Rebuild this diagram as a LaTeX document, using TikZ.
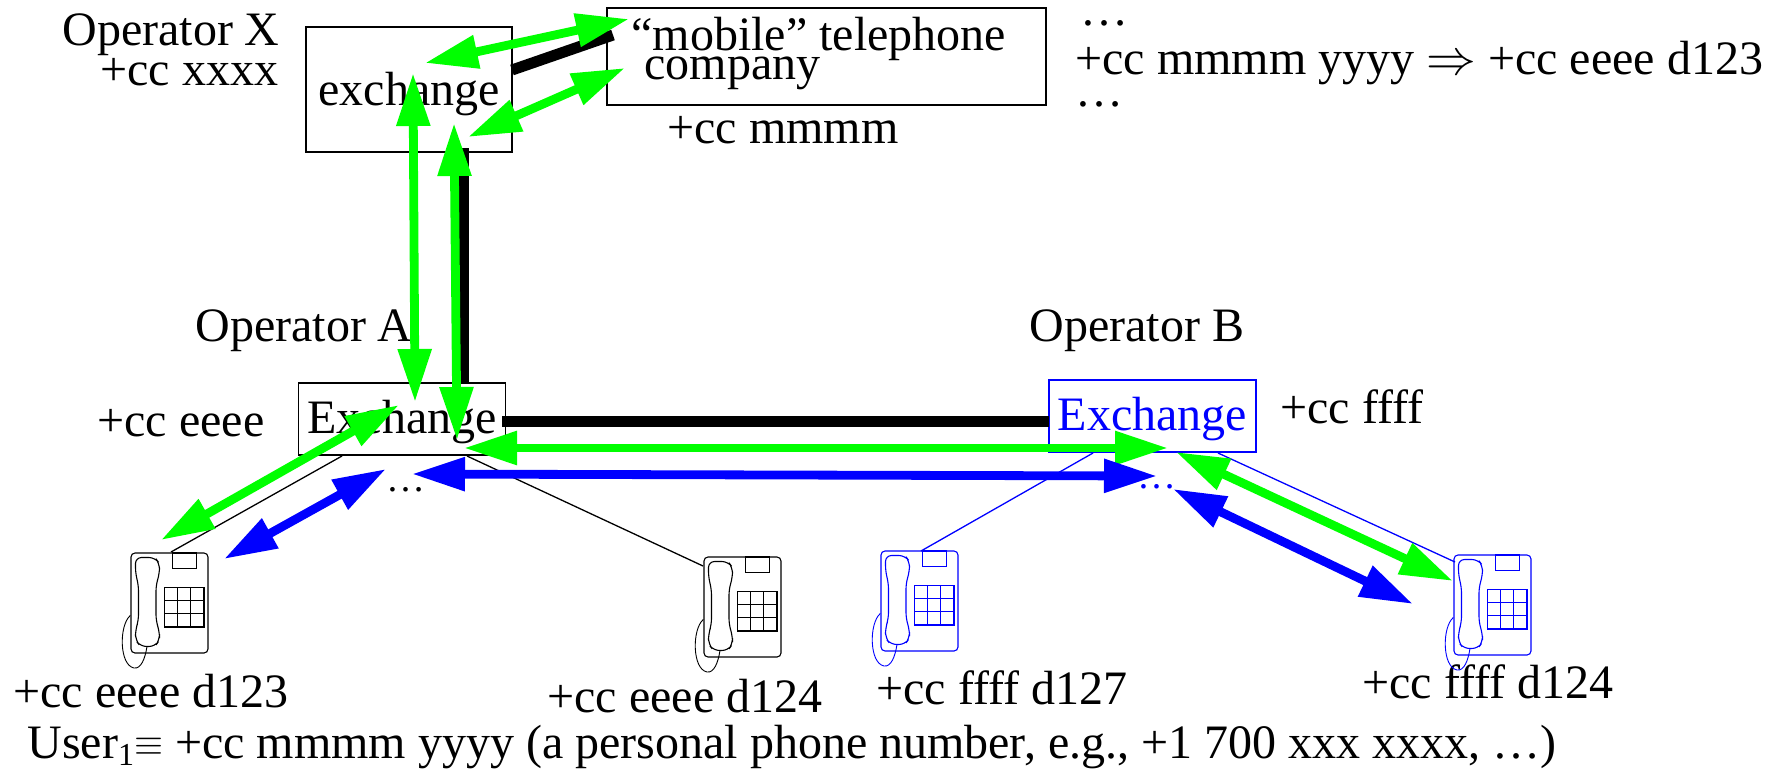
\documentclass[tikz,border=0pt]{standalone}
\usepackage{fontspec}
\setmainfont{Liberation Serif}
\usetikzlibrary{arrows.meta}
\definecolor{lgreen}{RGB}{0,255,0}
\definecolor{pblue}{RGB}{0,0,255}
\tikzset{
  lbl/.style={anchor=base west,inner sep=0pt,font=\fontsize{24}{28}\selectfont},
  dots/.style={anchor=base west,inner sep=0pt,font=\fontsize{19.5}{24}\selectfont},
  boxed/.style={draw,line width=0.85pt,anchor=base,inner xsep=0pt,inner ysep=0pt,align=center,font=\fontsize{24}{28}\selectfont},
  trunk/.style={line width=5.5pt,black},
  wire/.style={line width=0.65pt},
  dbl/.style={line width=4.4pt,{Triangle[length=26.5pt,width=16pt]}-{Triangle[length=26.5pt,width=16pt]}},
  greenarrow/.style={dbl,lgreen},
  bluearrow/.style={dbl,pblue},
  telephone/.pic={
    \draw[line width=0.55pt,rounded corners=2pt] (0,0) rectangle (77,100);
    \draw[line width=0.55pt] (41.7,0) rectangle (65.3,15.3);
    \draw[line width=0.55pt] (33.7,34.7) rectangle (73,74);
    \draw[line width=0.55pt] (46.8,34.7) -- (46.8,74) (59.9,34.7) -- (59.9,74)
      (33.7,47.8) -- (73,47.8) (33.7,60.9) -- (73,60.9);
    \draw[line width=0.55pt,rounded corners=3pt]
      (4.5,4.5) -- (24,4.5) -- (28.5,10.5) -- (28.5,20.5) -- (25,32) -- (25,67.5)
      -- (28.5,79) -- (28.5,87) -- (24,93.5) -- (9.5,93.5) -- (4.5,87) -- (4.5,77)
      -- (7.5,67.5) -- (7.5,32) -- (4.5,20.5) -- cycle;
    \draw[line width=0.45pt] (-0.7,62.5) .. controls (-12,72) and (-12,112) .. (3,115)
      .. controls (10,116) and (14,106) .. (16,93.5);
  }
}
\begin{document}
\begin{tikzpicture}[x=0.5pt,y=-0.5pt]
\useasboundingbox (0,0) rectangle (1773,772);
% boxes
\node[boxed,text width=103pt,text height=39pt,text depth=23.5pt] (exX) at (409,105) {exchange};
\node[draw,line width=0.85pt,inner sep=0pt,minimum width=219.5pt,minimum height=48.5pt] (mobile) at (826.5,56.5) {};
\node[boxed,text width=103.5pt,text height=25pt,text depth=11pt] (exA) at (402,433) {Exchange};
\node[boxed,draw=pblue,text=pblue,text width=103.5pt,text height=25pt,text depth=11pt] (exB) at (1152.5,430) {Exchange};
% labels
\node[lbl] (opX) at (62,45) {Operator X};
\node[lbl] (ccx) at (100,85) {+cc xxxx};
\node[lbl] (mob1) at (631,50) {“mobile” telephone};
\node[lbl] (mob2) at (644,79) {company};
\node[lbl] (ccm) at (667,143) {+cc mmmm};
\node[lbl] (d1) at (1080,25) {…};
\node[lbl] (map) at (1075,74) {+cc mmmm yyyy $\Rightarrow$ +cc eeee d123};
\node[lbl] (d2) at (1075,106) {…};
\node[lbl] (opA) at (195,341) {Operator A};
\node[lbl] (cce) at (97,436) {+cc eeee};
\node[lbl] (opB) at (1029,341) {Operator B};
\node[lbl] (ccf) at (1280,423) {+cc ffff};
\node[dots] (d3) at (386,491) {…};
\node[dots,text=pblue] (d4) at (1137,488) {…};
\node[lbl] (t1) at (13,707) {+cc eeee d123};
\node[lbl] (t2) at (547,712) {+cc eeee d124};
\node[lbl] (t3) at (876,704) {+cc ffff d127};
\node[lbl] (t4) at (1362,698) {+cc ffff d124};
\node[lbl] (user) at (27,758) {User\raisebox{-3.5pt}{\fontsize{16}{16}\selectfont 1}\raisebox{1.5pt}{\scalebox{0.75}{$\equiv$}} +cc mmmm yyyy (a personal phone number, e.g., +1 700 xxx xxxx, …)};
% telephones
\pic at (131,553) {telephone};
\pic at (704,557) {telephone};
\pic[color=pblue] at (881,551) {telephone};
\pic[color=pblue] at (1454,555) {telephone};
% anchor coordinates
\coordinate (pa1) at (171,552); \coordinate (pa1x) at (342,456);
\coordinate (pa2) at (703,566); \coordinate (pa2x) at (467,456);
\coordinate (pb1) at (921,551); \coordinate (pb1x) at (1093,453);
\coordinate (pb2) at (1455,562); \coordinate (pb2x) at (1218,453);
\draw[wire] (pa1x) -- (pa1);
\draw[wire] (pa2x) -- (pa2);
\draw[wire,pblue] (pb1x) -- (pb1);
\draw[wire,pblue] (pb2x) -- (pb2);
% trunks
\coordinate (ta) at (502,421); \coordinate (tb) at (1049,421);
\coordinate (tc) at (463.5,148); \coordinate (td) at (463.5,383);
\coordinate (te) at (512,70); \coordinate (tf) at (613,35);
\draw[trunk] (ta) -- (tb);
\draw[trunk] (tc) -- (td);
\draw[trunk] (te) -- (tf);
% green
\coordinate (g1a) at (425,63); \coordinate (g1b) at (629,19);
\coordinate (g2a) at (468,137); \coordinate (g2b) at (625,68);
\coordinate (g3a) at (413,73); \coordinate (g3b) at (415,402);
\coordinate (g4a) at (454,123); \coordinate (g4b) at (457,440);
\coordinate (g5a) at (464,448); \coordinate (g5b) at (1168,448);
\coordinate (g6a) at (399,405); \coordinate (g6b) at (161,540);
\coordinate (g7a) at (1176,452); \coordinate (g7b) at (1453,581);
\draw[greenarrow] (g1a) -- (g1b);
\draw[greenarrow] (g2a) -- (g2b);
\draw[greenarrow] (g3a) -- (g3b);
\draw[greenarrow] (g4a) -- (g4b);
\draw[greenarrow] (g5a) -- (g5b);
\draw[greenarrow] (g6a) -- (g6b);
\draw[greenarrow] (g7a) -- (g7b);
% blue
\coordinate (b1a) at (412,474); \coordinate (b1b) at (1157,476);
\coordinate (b2a) at (386,469); \coordinate (b2b) at (224,559);
\coordinate (b3a) at (1173,489); \coordinate (b3b) at (1413,604);
\draw[bluearrow] (b1a) -- (b1b);
\draw[bluearrow] (b2a) -- (b2b);
\draw[bluearrow] (b3a) -- (b3b);
\end{tikzpicture}
\end{document}
